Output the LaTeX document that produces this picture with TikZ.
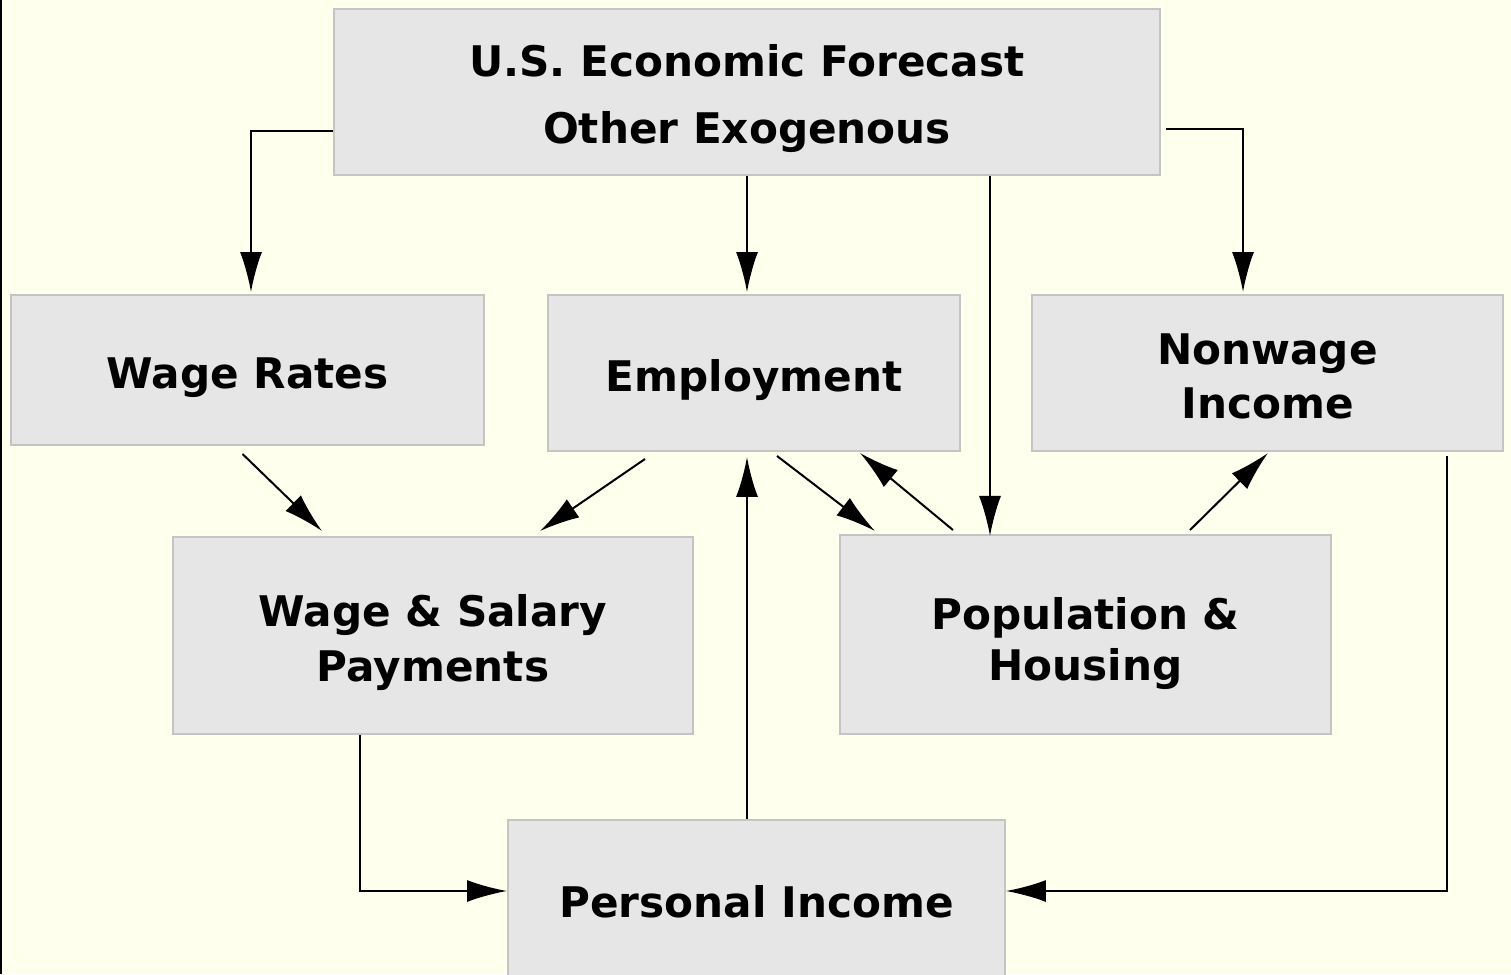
\documentclass[tikz,border=0pt]{standalone}
\usepackage{fontspec}
\setmainfont{DejaVu Sans}
\usepackage{tikz}
\usetikzlibrary{arrows.meta,calc,positioning}
\definecolor{paper}{RGB}{255,255,238}
\definecolor{boxfill}{RGB}{230,230,230}
\definecolor{boxline}{RGB}{196,196,196}
\newcommand{\toppad}[1]{\rule{0pt}{#1}}

\begin{document}
\begin{tikzpicture}[x=0.02cm, y=-0.02cm,
    block/.style = {draw = boxline, fill = boxfill, line width = 0.04cm,
      align = center, font = \fontsize{24}{31}\selectfont\bfseries},
    flow/.style = {draw, line width = 0.04cm, -{Latex[length = 0.8cm, width = 0.44cm]}}]
    \fill[paper] (0,0) rectangle (1511,974);
    \clip (0,0) rectangle (1511,974);
    \draw[line width = 0.06cm] (1,0) -- (1,974);
    % boxes
    \node[block, minimum width = 16.52cm, minimum height = 3.32cm] (fcst) at (747,92)
      {\toppad{0.92cm}U.S. Economic Forecast\\[0.25cm] Other Exogenous};
    \node[block, minimum width = 9.46cm, minimum height = 3cm] (wage) at (247.5,370) {\toppad{0.92cm}Wage Rates};
    \node[block, minimum width = 8.24cm, minimum height = 3.12cm] (emp) at (754,373) {\toppad{0.92cm}Employment};
    \node[block, minimum width = 9.42cm, minimum height = 3.12cm] (nonwage) at (1267.5,373) {\toppad{0.76cm}Nonwage\\Income};
    \node[block, minimum width = 10.4cm, minimum height = 3.94cm] (salary) at (433,635.5) {\toppad{0.92cm}Wage \& Salary\\Payments};
    \node[block, minimum width = 9.82cm, minimum height = 3.98cm] (pop) at (1085.5,634.5) {\toppad{1cm}Population \&\\[-0.08cm] Housing};
    \node[block, minimum width = 9.94cm, minimum height = 3.28cm] (pinc) at (756.5,902) {Personal Income};
    % connectors
    \draw[flow] ($(fcst.south west) + (0,-45)$) -| ($(wage.north) + (3.5,-2)$);
    \draw[flow] (fcst.south) -- ($(fcst.south |- emp.north) + (0,-2)$);
    \draw[flow] ($(fcst.south) + (243,0)$) -- ($(fcst.south -| pop.north) + (-95.5,360)$);
    \draw[flow] ($(fcst.south east) + (5,-47)$) -| ($(nonwage.north) + (-24.5,-2)$);
    \draw[flow] ($(wage.south) + (-5,8)$) -- ($(salary.north) + (-111,-5)$);
    \draw[flow] ($(emp.south) + (-109,7)$) -- ($(salary.north) + (107,-5)$);
    \draw[flow] ($(pinc.north) + (-9.5,0)$) -- ($(emp.south) + (-7,5)$);
    \draw[flow] ($(emp.south) + (23,4)$) -- ($(pop.north) + (-210.5,-3)$);
    \draw[flow] ($(pop.north) + (-132.5,-4)$) -- ($(emp.south) + (106,1)$);
    \draw[flow] ($(pop.north) + (104.5,-4)$) -- ($(nonwage.south) + (0.5,1)$);
    \draw[flow] ($(salary.south) + (-73,0)$) |- ($(pinc.west) + (0,-11)$);
    \draw[flow] ($(nonwage.south) + (179.5,4)$) |- ($(pinc.east) + (0,-11)$);
\end{tikzpicture}
\end{document}
